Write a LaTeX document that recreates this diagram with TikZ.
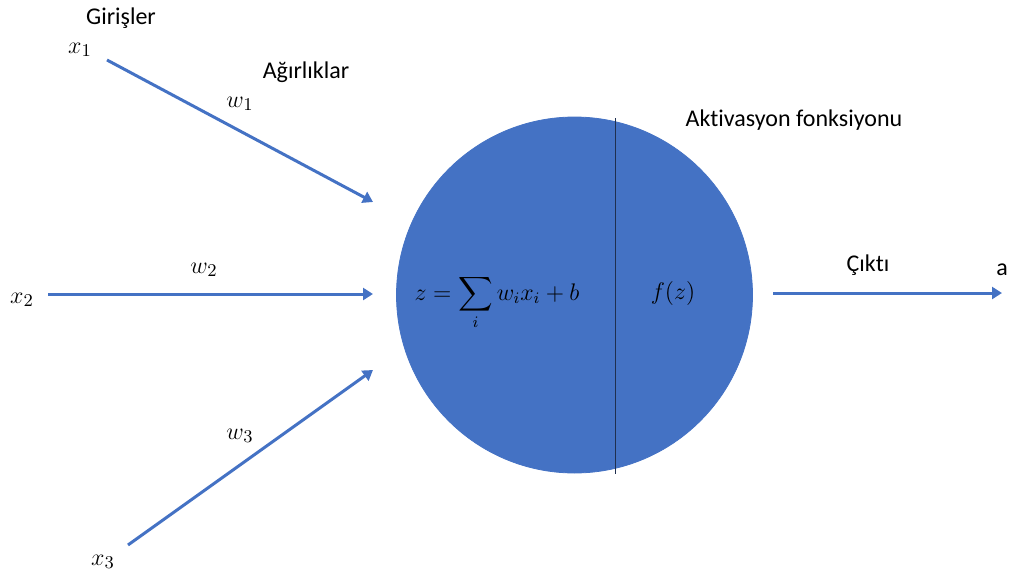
\documentclass[tikz,border=0pt]{standalone}
\usepackage{amsmath}
\usepackage{fontspec}
\setmainfont{Carlito}[Ligatures={NoCommon}]
\usepackage{xcolor}
\usepackage{tikz}
\usetikzlibrary{arrows.meta,positioning}
\definecolor{OfficeBlue}{HTML}{4472C4}
\definecolor{DarkNavy}{HTML}{1F2F4F}

\begin{document}
\begin{tikzpicture}[
  x=0.5pt, y=-0.5pt,
  neuron/.style={circle, fill=OfficeBlue, draw=OfficeBlue, minimum size=178pt, inner sep=0pt},
  lbl/.style={font=\fontsize{12}{14}\selectfont, inner sep=1pt},
  var/.style={font=\fontsize{13}{15}\selectfont, inner sep=1pt},
  wire/.style={-{Triangle[length=5pt,width=6pt]}, line width=1.5pt, draw=OfficeBlue}
]
\useasboundingbox (0,0) rectangle (1014,579);
% neuron body
\node[neuron] (neuron) at (574.5,295) {};
\coordinate (splittop) at (615.5,118);
\coordinate (splitbot) at (615.5,474);
\draw[DarkNavy, line width=0.6pt] (splittop) -- (splitbot);
\node[lbl, anchor=base] (sum) at (497,300) {$z=\displaystyle\sum_i w_i x_i+b$};
\node[var, anchor=base] (act) at (673,299) {$f(z)$};
% inputs
\node[lbl] (girisler) at (121,18) {Girişler};
\node[lbl] (agirliklar) at (306,72) {Ağırlıklar};
\node[var] (x1) at (80,50) {$x_1$};
\node[var] (x2) at (22,300) {$x_2$};
\node[var] (x3) at (103,562) {$x_3$};
\node[var] (w1) at (240,104) {$w_1$};
\node[var] (w2) at (204,270) {$w_2$};
\node[var] (w3) at (240,436) {$w_3$};
\coordinate (s1) at (107,60);
\coordinate (e1) at (373,202);
\coordinate (s2) at (48,294);
\coordinate (e2) at (373,294);
\coordinate (s3) at (128,545);
\coordinate (e3) at (373,370);
\draw[wire] (s1) -- (e1);
\draw[wire] (s2) -- (e2);
\draw[wire] (s3) -- (e3);
% output
\node[lbl] (aktiv) at (794,120) {Aktivasyon fonksiyonu};
\node[lbl] (cikti) at (868,265) {Çıktı};
\node[lbl] (out) at (1002,270) {a};
\coordinate (so) at (773,293);
\draw[wire] (so) -- (out.south |- so);
\end{tikzpicture}
\end{document}
